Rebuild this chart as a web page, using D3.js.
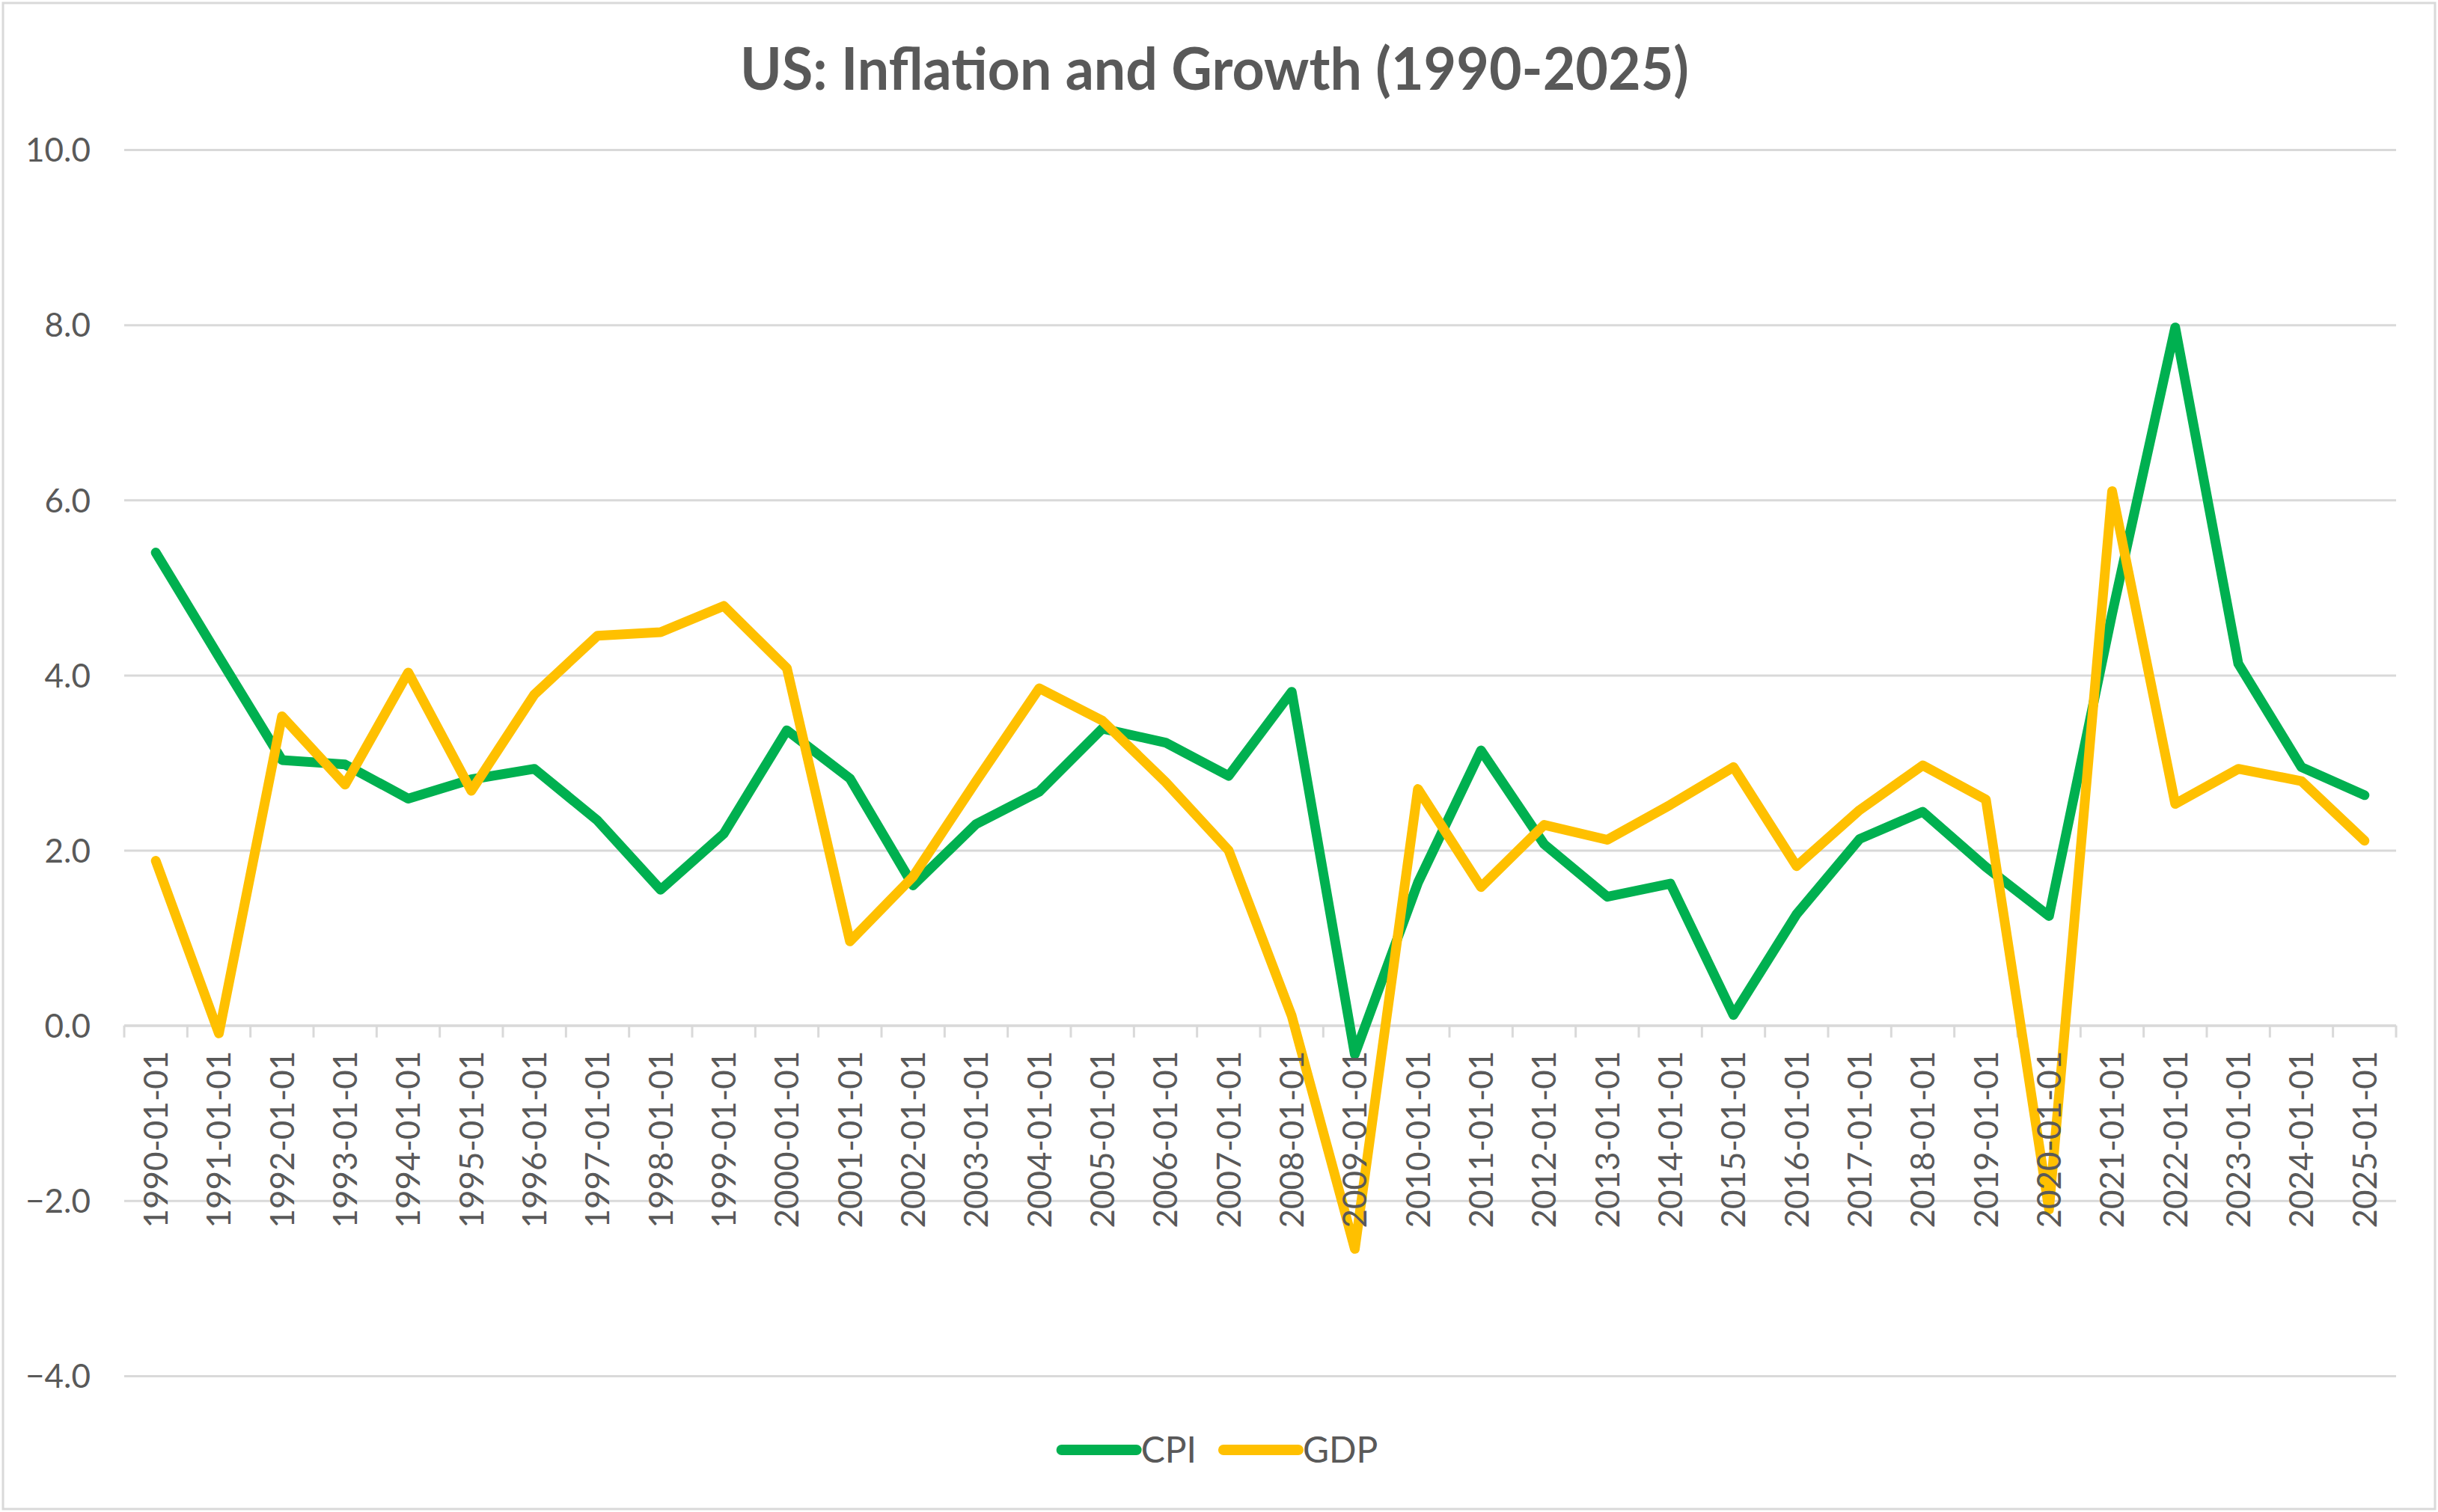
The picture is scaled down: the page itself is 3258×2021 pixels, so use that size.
<!DOCTYPE html>
<html>
<head>
<meta charset="utf-8">
<script src="https://cdn.jsdelivr.net/npm/d3@7"></script>
<style>
  html, body { margin: 0; padding: 0; background: #fff; }
  svg { display: block; }
</style>
</head>
<body>
<svg id="chart" width="3258" height="2021"></svg>
<script>
/* ---------- data ---------- */
const years = d3.range(1990, 2026);
const categories = years.map(y => `${y}-01-01`);

const cpi = [5.40, 4.21, 3.03, 2.98, 2.59, 2.81, 2.93, 2.34, 1.55, 2.19,
             3.37, 2.82, 1.60, 2.30, 2.67, 3.39, 3.23, 2.85, 3.81, -0.33,
             1.63, 3.14, 2.07, 1.47, 1.62, 0.12, 1.27, 2.13, 2.44, 1.81,
             1.25, 4.70, 7.97, 4.13, 2.95, 2.63];

const gdp = [1.88, -0.09, 3.53, 2.75, 4.03, 2.68, 3.78, 4.45, 4.49, 4.79,
             4.08, 0.96, 1.70, 2.79, 3.85, 3.48, 2.78, 2.00, 0.11, -2.55,
             2.70, 1.58, 2.29, 2.12, 2.52, 2.95, 1.82, 2.46, 2.97, 2.58,
             -2.10, 6.10, 2.53, 2.93, 2.79, 2.11];

const yTicks = [-4, -2, 0, 2, 4, 6, 8, 10];

const series = [
  { name: 'CPI', values: cpi, color: '#00B050' },
  { name: 'GDP', values: gdp, color: '#FFC000' },
];

/* ---------- layout ---------- */
const W = 3258, H = 2021;
const plot = { left: 166, right: 3202, top: 200, bottom: 1839 };
const textColor = '#595959';
const gridColor = '#D9D9D9';
const font = 'Lato, "Open Sans", sans-serif';

const svg = d3.select('#chart');

// outer chart border
svg.append('rect')
  .attr('x', 4).attr('y', 4)
  .attr('width', W - 8).attr('height', H - 8)
  .attr('fill', '#fff')
  .attr('stroke', gridColor)
  .attr('stroke-width', 3);

const x = d3.scaleBand().domain(categories).range([plot.left, plot.right]).padding(0);
const y = d3.scaleLinear().domain([-4, 10]).range([plot.bottom, plot.top]);

/* ---------- title ---------- */
// fitted to the reference width (Calibri proportions differ from Lato)
svg.append('text')
  .attr('x', 1623).attr('y', 120)
  .attr('text-anchor', 'middle')
  .attr('font-family', font)
  .attr('font-weight', 700)
  .attr('font-size', 78)
  .attr('fill', textColor)
  .attr('textLength', 1268)
  .attr('lengthAdjust', 'spacingAndGlyphs')
  .text('US: Inflation and Growth (1990-2025)');

/* ---------- grid + y axis ---------- */
const yAxis = d3.axisLeft(y)
  .tickValues(yTicks)
  .tickSize(-(plot.right - plot.left))
  .tickPadding(45)
  .tickFormat(d3.format('.1f'));

const gy = svg.append('g')
  .attr('transform', `translate(${plot.left},0)`)
  .call(yAxis);
gy.select('.domain').remove();
gy.selectAll('.tick line').attr('stroke', gridColor).attr('stroke-width', 3);
gy.selectAll('.tick text')
  .attr('font-family', font)
  .attr('font-size', 44)
  .attr('fill', textColor)
  .attr('dy', '0.36em');

/* ---------- x axis at zero ---------- */
const zeroY = y(0);
const gx = svg.append('g').attr('class', 'x-axis');

gx.append('line')
  .attr('x1', plot.left).attr('x2', plot.right)
  .attr('y1', zeroY).attr('y2', zeroY)
  .attr('stroke', gridColor).attr('stroke-width', 3);

// tick marks sit between categories
const boundaries = categories.map(c => x(c)).concat([plot.right]);
gx.selectAll('line.tick')
  .data(boundaries)
  .join('line')
  .attr('class', 'tick')
  .attr('x1', d => d).attr('x2', d => d)
  .attr('y1', zeroY).attr('y2', zeroY + 16)
  .attr('stroke', gridColor).attr('stroke-width', 3);

/* ---------- lines ---------- */
const line = d3.line()
  .x((d, i) => x(categories[i]) + x.bandwidth() / 2)
  .y(d => y(d));

svg.append('g').selectAll('path')
  .data(series)
  .join('path')
  .attr('d', s => line(s.values))
  .attr('fill', 'none')
  .attr('stroke', s => s.color)
  .attr('stroke-width', 13)
  .attr('stroke-linejoin', 'round')
  .attr('stroke-linecap', 'round');

/* ---------- x labels (drawn over the lines, as in Excel) ---------- */
svg.append('g').selectAll('text')
  .data(categories)
  .join('text')
  .attr('transform', d => `translate(${x(d) + x.bandwidth() / 2},${zeroY + 34}) rotate(-90)`)
  .attr('text-anchor', 'end')
  .attr('dy', '0.36em')
  .attr('font-family', font)
  .attr('font-size', 44)
  .attr('fill', textColor)
  .text(d => d);

/* ---------- legend ---------- */
const legendY = 1938;
const swatch = 100, gapText = 6, gapItem = 36;
const lg = svg.append('g');

let cursor = 0;
const items = series.map(s => {
  const g = lg.append('g');
  g.append('line')
    .attr('x1', 0).attr('x2', swatch)
    .attr('y1', 0).attr('y2', 0)
    .attr('stroke', s.color)
    .attr('stroke-width', 14)
    .attr('stroke-linecap', 'round');
  const t = g.append('text')
    .attr('x', swatch + gapText)
    .attr('dy', '0.36em')
    .attr('font-family', font)
    .attr('font-size', 48)
    .attr('fill', textColor)
    .text(s.name);
  const w = swatch + gapText + t.node().getComputedTextLength();
  const item = { g, offset: cursor };
  cursor += w + gapItem;
  return item;
});
const legendW = cursor - gapItem;
const legendX = 1630 - legendW / 2;
items.forEach(it => it.g.attr('transform', `translate(${legendX + it.offset},${legendY})`));
</script>
</body>
</html>
